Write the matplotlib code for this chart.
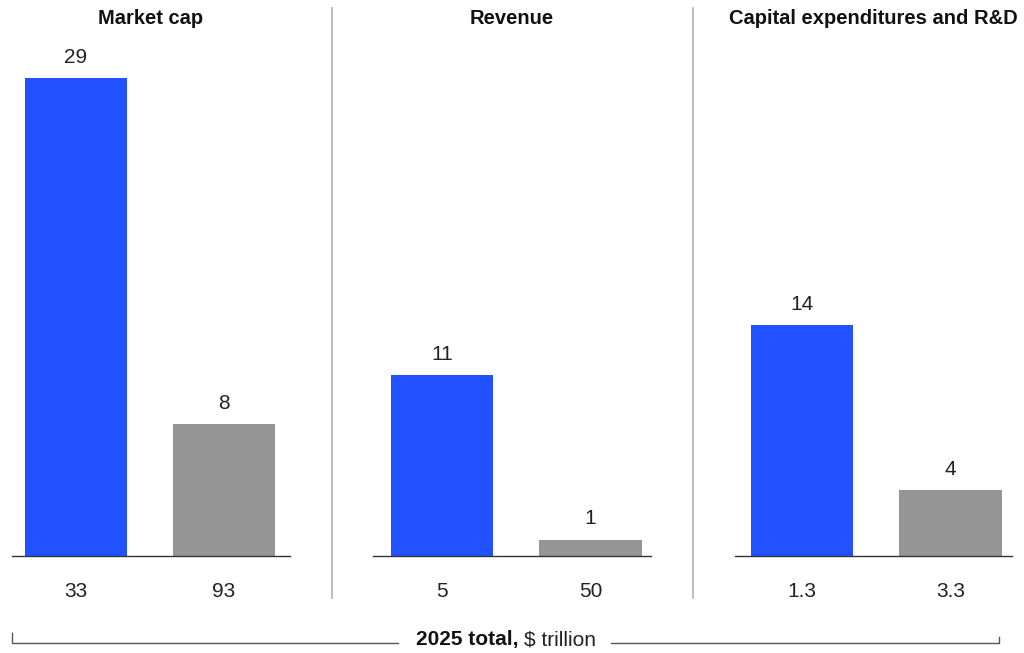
import matplotlib.pyplot as plt
from matplotlib.lines import Line2D

plt.rcParams['font.family'] = ['Liberation Sans', 'DejaVu Sans']

panelTitles = ["Market cap", "Revenue", "Capital expenditures and R&D"]
blueValues = [29, 11, 14]
grayValues = [8, 1, 4]
blueTotals = ["33", "5", "1.3"]
grayTotals = ["93", "50", "3.3"]

BLUE = "#2251FF"
GRAY = "#959595"

W, H = 1024, 653
fig = plt.figure(figsize=(W / 100, H / 100), dpi=100)

axLefts = [12, 373, 735]
axWidths = [278, 278, 277]
xLims = [(-0.432, 1.446), (-0.465, 1.407), (-0.451, 1.414)]
baseY = 556
topY = 61.5

for i, left in enumerate(axLefts):
    ax = fig.add_axes([left / W, (H - baseY) / H, axWidths[i] / W, (baseY - topY) / H])
    bars = ax.bar([0, 1], [blueValues[i], grayValues[i]], width=0.69,
                  color=[BLUE, GRAY])
    ax.bar_label(bars, padding=8, fontsize=15, color="#222222")
    ax.set_xlim(*xLims[i])
    ax.set_ylim(0, 30)
    ax.set_xticks([0, 1])
    ax.set_xticklabels([blueTotals[i], grayTotals[i]], fontsize=15, color="#222222")
    ax.tick_params(axis='x', length=0, pad=19)
    ax.set_yticks([])
    for s in ['top', 'right', 'left']:
        ax.spines[s].set_visible(False)
    ax.spines['bottom'].set_color("#333333")
    ax.spines['bottom'].set_linewidth(1)
    fig.text((left + axWidths[i] / 2) / W, 1 - 18 / H, panelTitles[i],
             ha='center', va='center', fontsize=14.5, fontweight='bold', color="#111111")

# vertical separators between panels
for x in [332, 693]:
    fig.add_artist(Line2D([x / W, x / W], [1 - 8 / H, 1 - 598 / H],
                          color="#b0b0b0", lw=1.2))

# bracket across the bottom
by = 1 - 643 / H
lineColor = "#555555"
fig.add_artist(Line2D([12 / W, 12 / W, 398 / W], [1 - 633 / H, by, by], color=lineColor, lw=1))
fig.add_artist(Line2D([611 / W, 999 / W, 999 / W], [by, by, 1 - 637 / H], color=lineColor, lw=1))
fig.text(519 / W, by + 3 / H, "2025 total,", ha='right', va='center', fontsize=15,
         fontweight='bold', color="#111111")
fig.text(524 / W, by + 3 / H, "$ trillion", ha='left', va='center', fontsize=15,
         color="#222222")

fig.savefig("out.png", dpi=100)
